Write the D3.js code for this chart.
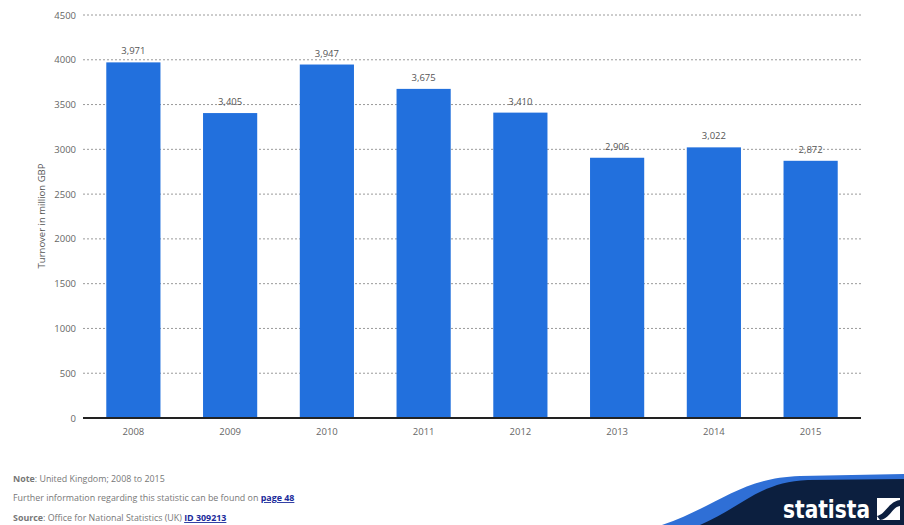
<!DOCTYPE html>
<html>
<head>
<meta charset="utf-8">
<script src="https://cdn.jsdelivr.net/npm/d3@7"></script>
<style>
  body { margin: 0; background: #fff; }
  .chart-text { font-family: "Open Sans", "DejaVu Sans", sans-serif; }
</style>
</head>
<body>
<div id="chart"></div>
<script>
// chart data
var years = ["2008", "2009", "2010", "2011", "2012", "2013", "2014", "2015"];
var turnover = [3971, 3405, 3947, 3675, 3410, 2906, 3022, 2872];
var yTicks = [0, 500, 1000, 1500, 2000, 2500, 3000, 3500, 4000, 4500];

var svgWidth = 904;
var svgHeight = 525;

var svg = d3.select("#chart")
  .append("svg")
  .attr("width", svgWidth)
  .attr("height", svgHeight)
  .attr("class", "chart-text");

var xScale = d3.scaleBand()
  .domain(years)
  .range([85, 859])
  .paddingInner(0.44)
  .paddingOuter(0.22);

var yScale = d3.scaleLinear()
  .domain([0, 4500])
  .range([418, 15]);

// gridlines
svg.append("g")
  .selectAll("line")
  .data(yTicks.filter(d => d > 0))
  .enter()
  .append("line")
  .attr("x1", 83)
  .attr("x2", 862)
  .attr("y1", d => yScale(d))
  .attr("y2", d => yScale(d))
  .attr("stroke", "#9a9a9a")
  .attr("stroke-width", 1)
  .attr("stroke-dasharray", "2,2");

// y tick labels
svg.append("g")
  .selectAll("text")
  .data(yTicks)
  .enter()
  .append("text")
  .attr("x", 76)
  .attr("y", d => yScale(d) + 3.5)
  .attr("text-anchor", "end")
  .attr("font-size", "9.5px")
  .attr("fill", "#666")
  .text(d => d);

// y axis title
svg.append("text")
  .attr("transform", "translate(45, 216) rotate(-90)")
  .attr("text-anchor", "middle")
  .attr("font-size", "9.5px")
  .attr("fill", "#555")
  .text("Turnover in million GBP");

// bars
svg.append("g")
  .selectAll("rect")
  .data(turnover)
  .enter()
  .append("rect")
  .attr("x", (d, i) => xScale(years[i]))
  .attr("y", d => yScale(d))
  .attr("width", xScale.bandwidth())
  .attr("height", d => yScale(0) - yScale(d))
  .attr("fill", "#2270dd");

// value labels
svg.append("g")
  .selectAll("text")
  .data(turnover)
  .enter()
  .append("text")
  .attr("x", (d, i) => xScale(years[i]) + xScale.bandwidth() / 2)
  .attr("y", d => yScale(d) - 8)
  .attr("text-anchor", "middle")
  .attr("font-size", "9.5px")
  .attr("fill", "#555")
  .text(d => d3.format(",")(d));

// x axis
var xAxis = svg.append("g")
  .attr("transform", "translate(0, 418)")
  .call(d3.axisBottom(xScale).tickSize(0).tickPadding(10))
  .attr("font-family", null)
  .attr("font-size", "9.5px");
xAxis.select(".domain").remove();
xAxis.selectAll("text")
  .attr("fill", "#666");
svg.append("line")
  .attr("x1", 83)
  .attr("x2", 861)
  .attr("y1", 418)
  .attr("y2", 418)
  .attr("stroke", "#222")
  .attr("stroke-width", 2);

// footer notes
var foot = svg.append("g").attr("font-size", "8.9px").attr("fill", "#777");
var note = foot.append("text").attr("x", 13).attr("y", 482);
note.append("tspan").attr("font-weight", "bold").text("Note");
note.append("tspan").text(": United Kingdom; 2008 to 2015");
var further = foot.append("text").attr("x", 13).attr("y", 501);
further.append("tspan").text("Further information regarding this statistic can be found on ");
further.append("tspan").attr("fill", "#1a2a9a").attr("font-weight", "bold")
  .attr("text-decoration", "underline").text("page 48");
var source = foot.append("text").attr("x", 13).attr("y", 521);
source.append("tspan").attr("font-weight", "bold").text("Source");
source.append("tspan").text(": Office for National Statistics (UK) ");
source.append("tspan").attr("fill", "#1a2a9a").attr("font-weight", "bold")
  .attr("text-decoration", "underline").text("ID 309213");

// statista logo
var logo = svg.append("g");
logo.append("path")
  .attr("d", "M662,525 C720,505 740,478 800,476 L904,474 L904,525 Z")
  .attr("fill", "#2f6fd6");
logo.append("path")
  .attr("d", "M700,525 C745,505 760,482 808,480 L904,479 L904,525 Z")
  .attr("fill", "#0c1f3f");
logo.append("text")
  .attr("x", 783)
  .attr("y", 518)
  .attr("font-size", "25px")
  .attr("font-weight", "bold")
  .attr("font-family", "\"DejaVu Sans Condensed\", \"DejaVu Sans\", sans-serif")
  .attr("textLength", 87)
  .attr("lengthAdjust", "spacingAndGlyphs")
  .attr("fill", "#fff")
  .text("statista");
logo.append("path")
  .attr("d", "M877,498 L900,498 L900,520 L877,520 Z")
  .attr("fill", "#fff");
logo.append("path")
  .attr("d", "M877,516 C886,514 888,502 900,500 L900,506 C892,507 890,519 880,520 Z")
  .attr("fill", "#0c1f3f");
</script>
</body>
</html>
